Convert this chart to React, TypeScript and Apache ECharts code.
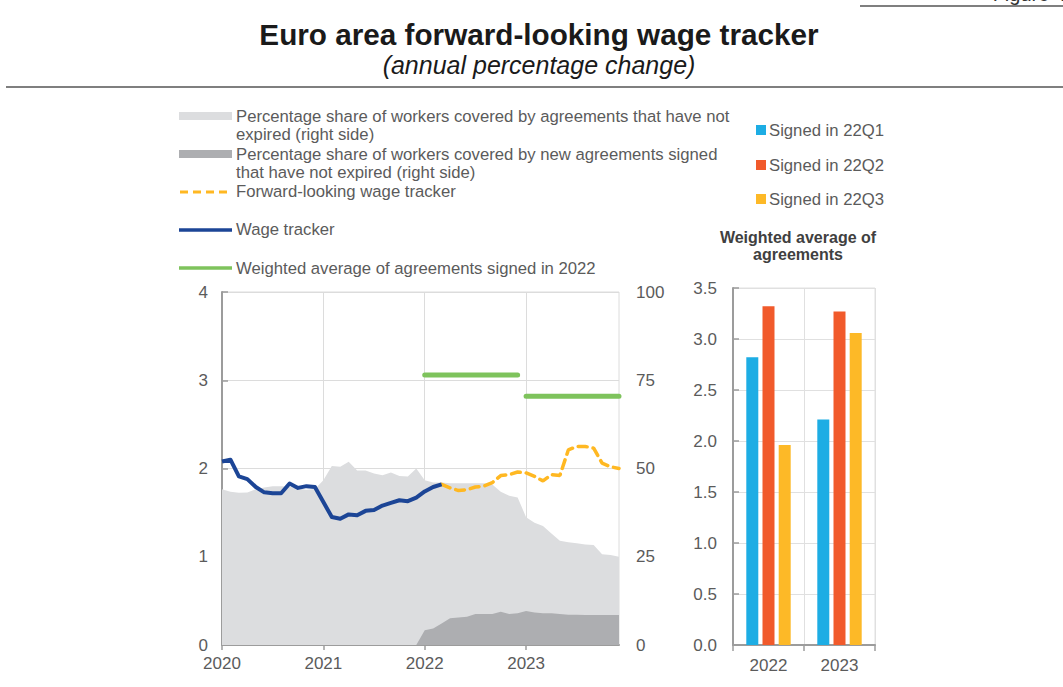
import React, { useEffect, useRef } from "react";
import * as echarts from "echarts";

// ---------- data ----------
const years = ["2020", "2021", "2022", "2023"];
const monthNums = ["01", "02", "03", "04", "05", "06", "07", "08", "09", "10", "11", "12"];
const months: string[] = [];
years.forEach((y) => monthNums.forEach((m) => months.push(`${y}-${m}`)));

// Wage tracker, 2020-01 .. 2022-03 (left axis, %)
const wageTracker = [
  2.08, 2.1, 1.91, 1.88, 1.79, 1.73, 1.72, 1.72, 1.83, 1.78, 1.8, 1.79,
  1.62, 1.45, 1.43, 1.48, 1.47, 1.52, 1.53, 1.58, 1.61, 1.64, 1.63, 1.67,
  1.74, 1.79, 1.82,
];
// Forward-looking wage tracker, 2022-03 .. 2023-12 (left axis, %)
const forwardStart = "2022-03";
const forwardTracker = [
  1.82, 1.78, 1.75, 1.76, 1.79, 1.8, 1.84, 1.92, 1.93, 1.96,
  1.95, 1.91, 1.86, 1.93, 1.92, 2.21, 2.25, 2.25, 2.23, 2.06, 2.02, 2.0,
];
// Share of workers covered by agreements that have not expired (right axis)
const shareNotExpired = [
  44.1, 43.4, 43.1, 43.2, 44.1, 44.6, 45.0, 45.0, 44.8, 44.3, 44.0, 44.2,
  46.7, 50.7, 50.5, 51.9, 49.4, 49.4, 48.6, 48.1, 48.9, 47.9, 47.7, 50.0,
  46.7, 46.0, 46.0, 45.8, 45.8, 45.8, 45.8, 45.8, 45.5, 43.4, 42.3, 41.8,
  36.2, 34.6, 33.7, 31.6, 29.5, 29.1, 28.8, 28.5, 28.3, 25.7, 25.5, 25.0,
];
// Share of workers covered by new agreements signed that have not expired (right axis), from 2021-12
const newShareStart = "2021-12";
const shareNewNotExpired = [
  0,
  4.2, 4.7, 6.1, 7.6, 7.8, 8.0, 8.8, 8.8, 8.8, 9.4, 8.8, 9.0,
  9.6, 9.2, 9.0, 9.0, 8.8, 8.6, 8.6, 8.5, 8.5, 8.5, 8.5, 8.5,
];
// Weighted average of agreements signed in 2022, by year of effect
const greenYears = ["2022", "2023"];
const greenLevels = [3.06, 2.82];

// Right panel bars
const barCategories = ["2022", "2023"];
const signed22Q1 = [2.82, 2.21];
const signed22Q2 = [3.32, 3.27];
const signed22Q3 = [1.96, 3.06];

const leftTicks = [0, 1, 2, 3, 4];
const rightTicks = [0, 25, 50, 75, 100];

// ---------- styles ----------
const FONT = "Liberation Sans";
const LABEL = "#5b5b5b";
const C_LIGHT = "#DCDDDF";
const C_DARK = "#ADAEB1";
const C_BLUE = "#1C4596";
const C_YELLOW = "#FFB822";
const C_GREEN = "#7EC35C";
const C_BAR1 = "#1DADE4";
const C_BAR2 = "#F15A2B";
const C_BAR3 = "#FDB927";

export default function App() {
  const ref = useRef<HTMLDivElement>(null);

  useEffect(() => {
    document.body.style.margin = "0";
    if (!ref.current) return;
    const chart = echarts.init(ref.current, undefined, { renderer: "svg" });

    const blueData = months.map((_, i) => (i < wageTracker.length ? wageTracker[i] : null));
    const fIdx = months.indexOf(forwardStart);
    const yellowData = months.map((_, i) =>
      i >= fIdx && i - fIdx < forwardTracker.length ? forwardTracker[i - fIdx] : null
    );
    const nIdx = months.indexOf(newShareStart);
    const darkData = months.map((_, i) =>
      i >= nIdx && i - nIdx < shareNewNotExpired.length ? shareNewNotExpired[i - nIdx] : null
    );
    const greenSeries = greenYears.map((yr, k) => ({
      type: "line",
      xAxisIndex: 0,
      yAxisIndex: 0,
      symbol: "none",
      data: months.map((m) => (m.startsWith(yr) ? greenLevels[k] : null)),
      lineStyle: { color: C_GREEN, width: 5, cap: "round" },
      z: 5,
    }));

    const yearInterval = (idx: number) => idx % 12 === 0;

    const legendText = (x: number, y: number, text: string, extra: any = {}) => ({
      type: "text",
      x,
      y,
      style: {
        text,
        fontSize: 16.7,
        fontFamily: FONT,
        fill: LABEL,
        lineHeight: 18,
        textVerticalAlign: "top",
        ...extra,
      },
    });

    const option: any = {
      animation: false,
      textStyle: { fontFamily: FONT },
      grid: [
        { left: 222, right: 444, top: 292, bottom: 42, show: true, borderColor: "#dcdcdc", borderWidth: 1 },
        { left: 733, right: 188, top: 288, bottom: 42, show: true, borderColor: "#e0e0e0", borderWidth: 1 },
      ],
      xAxis: [
        {
          type: "category",
          gridIndex: 0,
          data: months,
          boundaryGap: false,
          axisLine: { lineStyle: { color: "#9c9c9c", width: 2 } },
          axisTick: { show: true, interval: yearInterval, length: 5, lineStyle: { color: "#9c9c9c", width: 1.5 } },
          axisLabel: {
            interval: yearInterval,
            formatter: (v: string) => v.slice(0, 4),
            fontSize: 17,
            color: LABEL,
            margin: 10,
          },
          splitLine: { show: true, interval: yearInterval, lineStyle: { color: "#dcdcdc", width: 1 } },
        },
        {
          type: "category",
          gridIndex: 1,
          data: barCategories,
          boundaryGap: true,
          axisLine: { lineStyle: { color: "#9c9c9c", width: 2 } },
          axisTick: { show: true, length: 6, lineStyle: { color: "#9c9c9c", width: 1.5 } },
          axisLabel: { fontSize: 17, color: LABEL, margin: 12 },
          splitLine: { show: true, lineStyle: { color: "#e0e0e0", width: 1 } },
        },
      ],
      yAxis: [
        {
          type: "value",
          gridIndex: 0,
          min: leftTicks[0],
          max: leftTicks[leftTicks.length - 1],
          interval: 1,
          axisLine: { show: true, lineStyle: { color: "#9c9c9c", width: 2 } },
          axisTick: { show: true, inside: true, length: 6, lineStyle: { color: "#9c9c9c", width: 1.5 } },
          axisLabel: { fontSize: 17, color: LABEL, margin: 14 },
          splitLine: { show: true, lineStyle: { color: "#dcdcdc", width: 1 } },
        },
        {
          type: "value",
          gridIndex: 0,
          position: "right",
          min: rightTicks[0],
          max: rightTicks[rightTicks.length - 1],
          interval: 25,
          axisLine: { show: false },
          axisTick: { show: false },
          axisLabel: { fontSize: 17, color: LABEL, margin: 17 },
          splitLine: { show: false },
        },
        {
          type: "value",
          gridIndex: 1,
          min: 0,
          max: 3.5,
          interval: 0.5,
          axisLine: { show: true, lineStyle: { color: "#9c9c9c", width: 2 } },
          axisTick: { show: true, inside: true, length: 6, lineStyle: { color: "#9c9c9c", width: 1.5 } },
          axisLabel: { fontSize: 17, color: LABEL, margin: 16, formatter: (v: number) => v.toFixed(1) },
          splitLine: { show: true, lineStyle: { color: "#e0e0e0", width: 1 } },
        },
      ],
      series: [
        {
          name: "Percentage share of workers covered by agreements that have not expired (right side)",
          type: "line",
          xAxisIndex: 0,
          yAxisIndex: 1,
          symbol: "none",
          data: shareNotExpired,
          lineStyle: { width: 0 },
          areaStyle: { color: C_LIGHT, opacity: 1 },
          z: 1,
        },
        {
          name: "Percentage share of workers covered by new agreements signed that have not expired (right side)",
          type: "line",
          xAxisIndex: 0,
          yAxisIndex: 1,
          symbol: "none",
          data: darkData,
          lineStyle: { width: 0 },
          areaStyle: { color: C_DARK, opacity: 1 },
          z: 2,
        },
        ...greenSeries,
        {
          name: "Forward-looking wage tracker",
          type: "line",
          xAxisIndex: 0,
          yAxisIndex: 0,
          symbol: "none",
          data: yellowData,
          lineStyle: { color: C_YELLOW, width: 3.5, type: [9, 6], cap: "round" },
          z: 6,
        },
        {
          name: "Wage tracker",
          type: "line",
          xAxisIndex: 0,
          yAxisIndex: 0,
          symbol: "none",
          data: blueData,
          lineStyle: { color: C_BLUE, width: 4, join: "round" },
          z: 7,
        },
        {
          name: "Signed in 22Q1",
          type: "bar",
          xAxisIndex: 1,
          yAxisIndex: 2,
          data: signed22Q1,
          barWidth: 12,
          barGap: "35%",
          itemStyle: { color: C_BAR1 },
        },
        {
          name: "Signed in 22Q2",
          type: "bar",
          xAxisIndex: 1,
          yAxisIndex: 2,
          data: signed22Q2,
          barWidth: 12,
          barGap: "35%",
          itemStyle: { color: C_BAR2 },
        },
        {
          name: "Signed in 22Q3",
          type: "bar",
          xAxisIndex: 1,
          yAxisIndex: 2,
          data: signed22Q3,
          barWidth: 12,
          barGap: "35%",
          itemStyle: { color: C_BAR3 },
        },
      ],
      graphic: [
        // top-right cut-off figure label (cut in the reference too)
        {
          type: "text",
          x: 1066,
          y: 4,
          style: { text: "Figure 4", fontSize: 20, fontFamily: FONT, fill: "#333", textAlign: "right", textVerticalAlign: "bottom" },
        },
        { type: "line", shape: { x1: 860, y1: 6, x2: 1063, y2: 6 }, style: { stroke: "#7f7f7f", lineWidth: 2 } },
        // title
        {
          type: "text",
          x: 539,
          y: 34,
          style: {
            text: "Euro area forward-looking wage tracker",
            fontSize: 29.7,
            fontWeight: "bold",
            fontFamily: FONT,
            fill: "#1a1a1a",
            textAlign: "center",
            textVerticalAlign: "middle",
          },
        },
        {
          type: "text",
          x: 539,
          y: 65,
          style: {
            text: "(annual percentage change)",
            fontSize: 25,
            fontStyle: "italic",
            fontFamily: FONT,
            fill: "#1a1a1a",
            textAlign: "center",
            textVerticalAlign: "middle",
          },
        },
        { type: "line", shape: { x1: 6, y1: 87, x2: 1063, y2: 87 }, style: { stroke: "#7f7f7f", lineWidth: 2 } },
        // left legend
        { type: "rect", shape: { x: 179, y: 112, width: 53, height: 8 }, style: { fill: C_LIGHT } },
        legendText(236, 107, "Percentage share of workers covered by agreements that have not\nexpired (right side)"),
        { type: "rect", shape: { x: 179, y: 150, width: 53, height: 8 }, style: { fill: C_DARK } },
        legendText(236, 145, "Percentage share of workers covered by new agreements signed\nthat have not expired (right side)"),
        {
          type: "line",
          shape: { x1: 180, y1: 192, x2: 232, y2: 192 },
          style: { stroke: C_YELLOW, lineWidth: 3, lineDash: [8, 5] },
        },
        legendText(236, 182, "Forward-looking wage tracker"),
        { type: "line", shape: { x1: 179, y1: 230, x2: 232, y2: 230 }, style: { stroke: C_BLUE, lineWidth: 3.5 } },
        legendText(236, 220, "Wage tracker"),
        { type: "line", shape: { x1: 179, y1: 268, x2: 232, y2: 268 }, style: { stroke: C_GREEN, lineWidth: 3.5 } },
        legendText(236, 259, "Weighted average of agreements signed in 2022"),
        // right legend
        { type: "rect", shape: { x: 756, y: 125, width: 10, height: 10 }, style: { fill: C_BAR1 } },
        legendText(769, 121, "Signed in 22Q1"),
        { type: "rect", shape: { x: 756, y: 160, width: 10, height: 10 }, style: { fill: C_BAR2 } },
        legendText(769, 156, "Signed in 22Q2"),
        { type: "rect", shape: { x: 756, y: 194, width: 10, height: 10 }, style: { fill: C_BAR3 } },
        legendText(769, 190, "Signed in 22Q3"),
        // right panel title
        {
          type: "text",
          x: 798,
          y: 246,
          style: {
            text: "Weighted average of\nagreements",
            fontSize: 16,
            fontWeight: "bold",
            fontFamily: FONT,
            fill: "#404040",
            lineHeight: 17,
            textAlign: "center",
            textVerticalAlign: "middle",
          },
        },
      ],
    };

    chart.setOption(option);
    return () => chart.dispose();
  }, []);

  return <div ref={ref} style={{ width: 1063, height: 687 }} />;
}
